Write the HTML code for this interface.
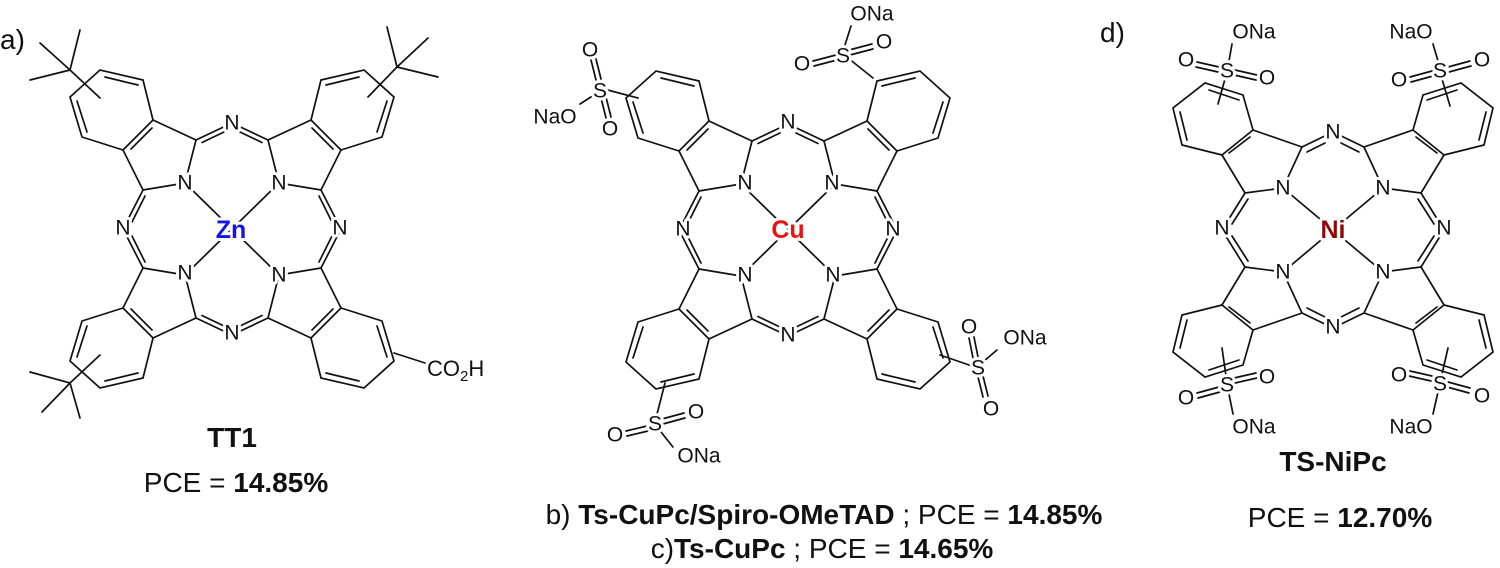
<!DOCTYPE html>
<html><head><meta charset="utf-8"><style>
html,body{margin:0;padding:0;background:#fff;}
svg{display:block;}
text{font-family:"Liberation Sans",Arial,sans-serif;}
.at{font-size:21px;fill:#111;stroke:#fff;stroke-width:6px;paint-order:stroke;stroke-linejoin:round;text-anchor:middle;dominant-baseline:central;}
.lb{font-size:28px;fill:#111;}
</style></head><body>
<svg width="1500" height="568" viewBox="0 0 1500 568" xmlns="http://www.w3.org/2000/svg">
<defs>
<g id="q" stroke="#111" stroke-width="1.7" fill="none" stroke-linecap="round">
  <line x1="0" y1="0" x2="-47" y2="-46"/>
  <line x1="-47" y1="-46" x2="-36" y2="-89"/>
  <line x1="-36" y1="-89" x2="0" y2="-106"/>
  <line x1="-30" y1="-86.5" x2="-8" y2="-97"/>
  <line x1="-47" y1="-46" x2="-89" y2="-39"/>
  <line x1="-89" y1="-39" x2="-109" y2="0"/>
  <line x1="-87" y1="-33" x2="-100" y2="-7"/>
  <line x1="-36" y1="-89" x2="-79" y2="-109"/>
  <line x1="-89" y1="-39" x2="-109" y2="-79"/>
  <line x1="-79" y1="-109" x2="-109" y2="-79"/>
  <line x1="-80" y1="-101" x2="-101" y2="-80"/>
  <polyline points="-79,-109 -89,-149 -132,-159 -162,-132 -150,-92 -109,-79"/>
  <line x1="-94" y1="-144" x2="-127" y2="-152"/>
  <line x1="-155" y1="-128" x2="-145" y2="-97"/>
</g>
<g id="pc">
  <use href="#q"/>
  <use href="#q" transform="scale(-1,1)"/>
  <use href="#q" transform="scale(1,-1)"/>
  <use href="#q" transform="scale(-1,-1)"/>
</g>
<g id="qd" stroke="#111" stroke-width="1.7" fill="none" stroke-linecap="round">
  <line x1="0" y1="0" x2="-50" y2="-42"/>
  <line x1="-50" y1="-42" x2="-31" y2="-83"/>
  <line x1="-31" y1="-83" x2="0" y2="-98"/>
  <line x1="-26" y1="-78" x2="-8" y2="-87"/>
  <line x1="-50" y1="-42" x2="-88" y2="-37"/>
  <line x1="-88" y1="-37" x2="-111" y2="0"/>
  <line x1="-85" y1="-31" x2="-101" y2="-6"/>
  <line x1="-31" y1="-83" x2="-80" y2="-100"/>
  <line x1="-88" y1="-37" x2="-111" y2="-75"/>
  <line x1="-80" y1="-100" x2="-111" y2="-75"/>
  <line x1="-83" y1="-93" x2="-104" y2="-77"/>
  <polyline points="-80,-100 -90,-135 -128,-147 -160,-122 -151,-85 -111,-75"/>
  <line x1="-94" y1="-130" x2="-124" y2="-140"/>
  <line x1="-153" y1="-118" x2="-146" y2="-90"/>
</g>
<g id="pcd">
  <use href="#qd"/>
  <use href="#qd" transform="scale(-1,1)"/>
  <use href="#qd" transform="scale(1,-1)"/>
  <use href="#qd" transform="scale(-1,-1)"/>
</g>
</defs>

<!-- a) -->
<text class="lb" x="0" y="49">a)</text>
<use href="#pc" transform="translate(232,229)"/>
<g stroke="#111" stroke-width="1.7" fill="none" stroke-linecap="round">
  <line x1="70" y1="70" x2="40" y2="43"/><line x1="70" y1="70" x2="80" y2="30"/><line x1="70" y1="70" x2="30" y2="80"/><line x1="70" y1="70" x2="100" y2="98"/>
  <line x1="397" y1="67" x2="387" y2="27"/><line x1="397" y1="67" x2="428" y2="38"/><line x1="397" y1="67" x2="438" y2="77"/><line x1="397" y1="67" x2="368" y2="97"/>
  <line x1="70" y1="383" x2="30" y2="372"/><line x1="70" y1="383" x2="42" y2="412"/><line x1="70" y1="383" x2="80" y2="418"/><line x1="70" y1="383" x2="100" y2="355"/>
  <line x1="394" y1="353" x2="425" y2="363"/>
</g>
<g class="at">
  <text x="232" y="123">N</text><text x="123" y="228">N</text><text x="340" y="228">N</text><text x="232" y="333">N</text>
  <text x="185" y="183">N</text><text x="279" y="183">N</text><text x="185" y="273">N</text><text x="279" y="275">N</text>
  <text x="231" y="230" style="font-weight:bold;fill:#1515e8;font-size:25px">Zn</text>
</g>
<text x="427" y="376" style="font-size:22px;fill:#111">CO<tspan font-size="15" dy="5">2</tspan><tspan dy="-5">H</tspan></text>
<text class="lb" x="232" y="447" text-anchor="middle" font-weight="bold">TT1</text>
<text class="lb" x="236" y="492" text-anchor="middle">PCE = <tspan font-weight="bold">14.85%</tspan></text>

<!-- b) -->
<use href="#pc" transform="translate(788,230)"/>
<g stroke="#111" stroke-width="1.7" fill="none" stroke-linecap="round">
  <line x1="638" y1="98" x2="600" y2="88"/>
  <line x1="596" y1="80" x2="591" y2="60"/><line x1="601" y1="79" x2="596" y2="59"/>
  <line x1="601" y1="98" x2="606" y2="118"/><line x1="606" y1="97" x2="611" y2="117"/>
  <line x1="594" y1="95" x2="580" y2="104"/>
  <line x1="873" y1="78" x2="848" y2="58"/>
  <line x1="836" y1="55" x2="813" y2="61"/><line x1="837" y1="60" x2="814" y2="66"/>
  <line x1="849" y1="50" x2="872" y2="44"/><line x1="850" y1="55" x2="873" y2="49"/>
  <line x1="845" y1="45" x2="851" y2="26"/>
  <line x1="940" y1="355" x2="972" y2="366"/>
  <line x1="973" y1="358" x2="969" y2="338"/><line x1="978" y1="357" x2="974" y2="337"/>
  <line x1="978" y1="377" x2="983" y2="397"/><line x1="983" y1="376" x2="988" y2="396"/>
  <line x1="984" y1="361" x2="997" y2="350"/>
  <line x1="665" y1="383" x2="657" y2="414"/>
  <line x1="647" y1="426" x2="626" y2="431"/><line x1="648" y1="431" x2="627" y2="436"/>
  <line x1="662" y1="419" x2="684" y2="413"/><line x1="663" y1="424" x2="685" y2="418"/>
  <line x1="661" y1="432" x2="673" y2="447"/>
</g>
<g class="at">
  <text x="788" y="122">N</text><text x="683" y="229">N</text><text x="893" y="229">N</text><text x="788" y="335">N</text>
  <text x="745" y="183">N</text><text x="832" y="183">N</text><text x="745" y="275">N</text><text x="833" y="275">N</text>
  <text x="788" y="230" style="font-weight:bold;fill:#ee1111;font-size:25px">Cu</text>
  <text x="600" y="91">S</text><text x="590" y="50">O</text><text x="610" y="129">O</text><text x="555" y="117">NaO</text>
  <text x="843" y="56">S</text><text x="802" y="64">O</text><text x="884" y="42">O</text><text x="872" y="14">ONa</text>
  <text x="978" y="368">S</text><text x="969" y="327">O</text><text x="991" y="409">O</text><text x="1025" y="338">ONa</text>
  <text x="655" y="424">S</text><text x="615" y="435">O</text><text x="696" y="412">O</text><text x="699" y="456">ONa</text>
</g>
<text class="lb" x="824" y="524" text-anchor="middle" font-size="27">b) <tspan font-weight="bold">Ts-CuPc/Spiro-OMeTAD</tspan> ; PCE = <tspan font-weight="bold">14.85%</tspan></text>
<text class="lb" x="822" y="558" text-anchor="middle" font-size="27">c)<tspan font-weight="bold">Ts-CuPc</tspan> ; PCE = <tspan font-weight="bold">14.65%</tspan></text>

<!-- d) -->
<text class="lb" x="1100" y="42">d)</text>
<use href="#pcd" transform="translate(1333,230)"/>
<g stroke="#111" stroke-width="1.7" fill="none" stroke-linecap="round">
  <line x1="1225" y1="79" x2="1218" y2="104"/>
  <line x1="1219" y1="67" x2="1197" y2="62"/><line x1="1218" y1="72" x2="1196" y2="67"/>
  <line x1="1235" y1="70" x2="1257" y2="75"/><line x1="1234" y1="75" x2="1256" y2="80"/>
  <line x1="1229" y1="61" x2="1232" y2="44"/>
  <line x1="1442" y1="79" x2="1450" y2="106"/>
  <line x1="1432" y1="71" x2="1410" y2="77"/><line x1="1433" y1="76" x2="1411" y2="82"/>
  <line x1="1448" y1="67" x2="1470" y2="61"/><line x1="1449" y1="72" x2="1471" y2="66"/>
  <line x1="1438" y1="61" x2="1433" y2="44"/>
  <line x1="1226" y1="376" x2="1222" y2="348"/>
  <line x1="1219" y1="387" x2="1197" y2="393"/><line x1="1220" y1="392" x2="1198" y2="398"/>
  <line x1="1234" y1="378" x2="1256" y2="373"/><line x1="1235" y1="383" x2="1257" y2="378"/>
  <line x1="1229" y1="394" x2="1233" y2="414"/>
  <line x1="1442" y1="374" x2="1448" y2="348"/>
  <line x1="1432" y1="376" x2="1410" y2="371"/><line x1="1431" y1="381" x2="1409" y2="376"/>
  <line x1="1448" y1="382" x2="1470" y2="388"/><line x1="1447" y1="387" x2="1469" y2="393"/>
  <line x1="1438" y1="392" x2="1433" y2="414"/>
</g>
<g class="at">
  <text x="1333" y="132">N</text><text x="1222" y="228">N</text><text x="1444" y="228">N</text><text x="1333" y="327">N</text>
  <text x="1283" y="188">N</text><text x="1383" y="188">N</text><text x="1283" y="272">N</text><text x="1383" y="272">N</text>
  <text x="1333" y="230" style="font-weight:bold;fill:#8b0a0a;font-size:25px">Ni</text>
  <text x="1227" y="71">S</text><text x="1186" y="60">O</text><text x="1267" y="78">O</text><text x="1254" y="32">ONa</text>
  <text x="1440" y="71">S</text><text x="1399" y="80">O</text><text x="1482" y="60">O</text><text x="1411" y="32">NaO</text>
  <text x="1227" y="385">S</text><text x="1186" y="398">O</text><text x="1267" y="377">O</text><text x="1254" y="427">ONa</text>
  <text x="1440" y="384">S</text><text x="1399" y="375">O</text><text x="1482" y="396">O</text><text x="1411" y="427">NaO</text>
</g>
<text class="lb" x="1333" y="471" text-anchor="middle" font-weight="bold">TS-NiPc</text>
<text class="lb" x="1340" y="527" text-anchor="middle">PCE = <tspan font-weight="bold">12.70%</tspan></text>
</svg>
</body></html>
